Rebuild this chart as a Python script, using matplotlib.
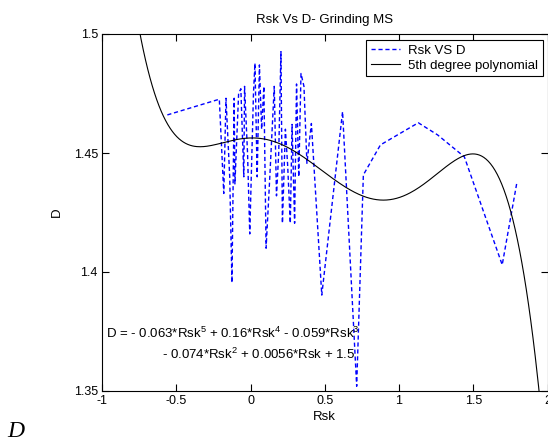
import numpy as np
import matplotlib
matplotlib.use('Agg')
import matplotlib.pyplot as plt

plt.rcParams['font.family'] = ['Liberation Sans', 'DejaVu Sans']
plt.rcParams['mathtext.fontset'] = 'custom'
plt.rcParams['mathtext.rm'] = 'Liberation Sans'
plt.rcParams['mathtext.default'] = 'regular'

# measured data (Rsk vs D)
rsk = [-0.56, -0.21, -0.18, -0.165, -0.14, -0.125, -0.11, -0.105, -0.08, -0.065,
       -0.045, -0.04, -0.02, -0.005, 0.02, 0.03, 0.045, 0.06, 0.075, 0.09,
       0.105, 0.13, 0.16, 0.175, 0.19, 0.205, 0.215, 0.235, 0.25, 0.268,
       0.28, 0.297, 0.31, 0.325, 0.34, 0.36, 0.38, 0.41, 0.48,
       0.62, 0.715, 0.76, 0.875, 0.99, 1.13, 1.26, 1.44, 1.55, 1.695, 1.795]
d = [1.466, 1.4726, 1.433, 1.473, 1.44, 1.3955, 1.473, 1.437, 1.475, 1.477,
     1.44, 1.478, 1.45, 1.416, 1.475, 1.4877, 1.44, 1.487, 1.46, 1.478,
     1.41, 1.44, 1.478, 1.432, 1.45, 1.4926, 1.4205, 1.46, 1.445, 1.4205,
     1.462, 1.4205, 1.479, 1.44, 1.4834, 1.478, 1.4457, 1.4624, 1.3903,
     1.4674, 1.352, 1.4408, 1.4534, 1.4576, 1.4627, 1.4576, 1.4484, 1.4288, 1.403, 1.438]

# points
curve_x = [-0.748, -0.609, -0.519, -0.361, -0.204, 0.043, 0.335, 0.56, 0.785, 0.92,
           1.212, 1.504, 1.661, 1.763, 1.864, 1.931]
curve_y = [1.5, 1.4709, 1.4597, 1.4508, 1.4529, 1.4566, 1.4499, 1.440, 1.431, 1.4289,
           1.440, 1.4484, 1.4415, 1.4247, 1.3882, 1.3574]

coef = np.polyfit(curve_x, curve_y, 5)
xs = np.linspace(-1, 2, 400)

fig = plt.figure(figsize=(5.48, 4.41), dpi=100)
ax = fig.add_axes([102 / 548, 1 - 391 / 441, 445.5 / 548, 357 / 441])

ax.plot(rsk, d, color='#0000ff', linestyle=(0, (3, 2)), linewidth=1, label='Rsk VS D')
ax.plot(xs, np.polyval(coef, xs), color='black', linewidth=0.8, label='5th degree polynomial')

ax.set_xlim(-1, 2)
ax.set_ylim(1.35, 1.5)
ax.set_xticks([-1, -0.5, 0, 0.5, 1, 1.5, 2])
ax.set_xticklabels(['-1', '-0.5', '0', '0.5', '1', '1.5', '2'])
ax.set_yticks([1.35, 1.4, 1.45, 1.5])
ax.set_yticklabels(['1.35', '1.4', '1.45', '1.5'])
ax.tick_params(direction='in', length=5, width=0.8, labelsize=9, pad=3,
               top=True, right=True)
for s in ax.spines.values():
    s.set_linewidth(0.8)

ax.set_title('Rsk Vs D- Grinding MS', fontsize=9.5, pad=8)
ax.set_xlabel('Rsk', fontsize=9.5, labelpad=3)
ax.set_ylabel('D', fontsize=9.5, labelpad=8)

ax.text(-0.973, 1.3744, 'D = - 0.063*Rsk$^5$ + 0.16*Rsk$^4$ - 0.059*Rsk$^3$',
        fontsize=9.5, va='center', ha='left')
ax.text(-0.595, 1.3655, '- 0.074*Rsk$^2$ + 0.0056*Rsk + 1.5',
        fontsize=9.5, va='center', ha='left')

leg = ax.legend(loc='upper right', bbox_to_anchor=(0.989, 0.983), fontsize=9.5,
                fancybox=False, edgecolor='black', framealpha=1, borderaxespad=0,
                handlelength=2.2, handletextpad=0.6, labelspacing=0.2,
                borderpad=0.35)
leg.get_frame().set_linewidth(0.8)

fig.text(7 / 548, 4 / 441, 'D', fontsize=17, family='Liberation Serif',
         style='italic', va='baseline', ha='left')

fig.savefig('out.png', dpi=100)
